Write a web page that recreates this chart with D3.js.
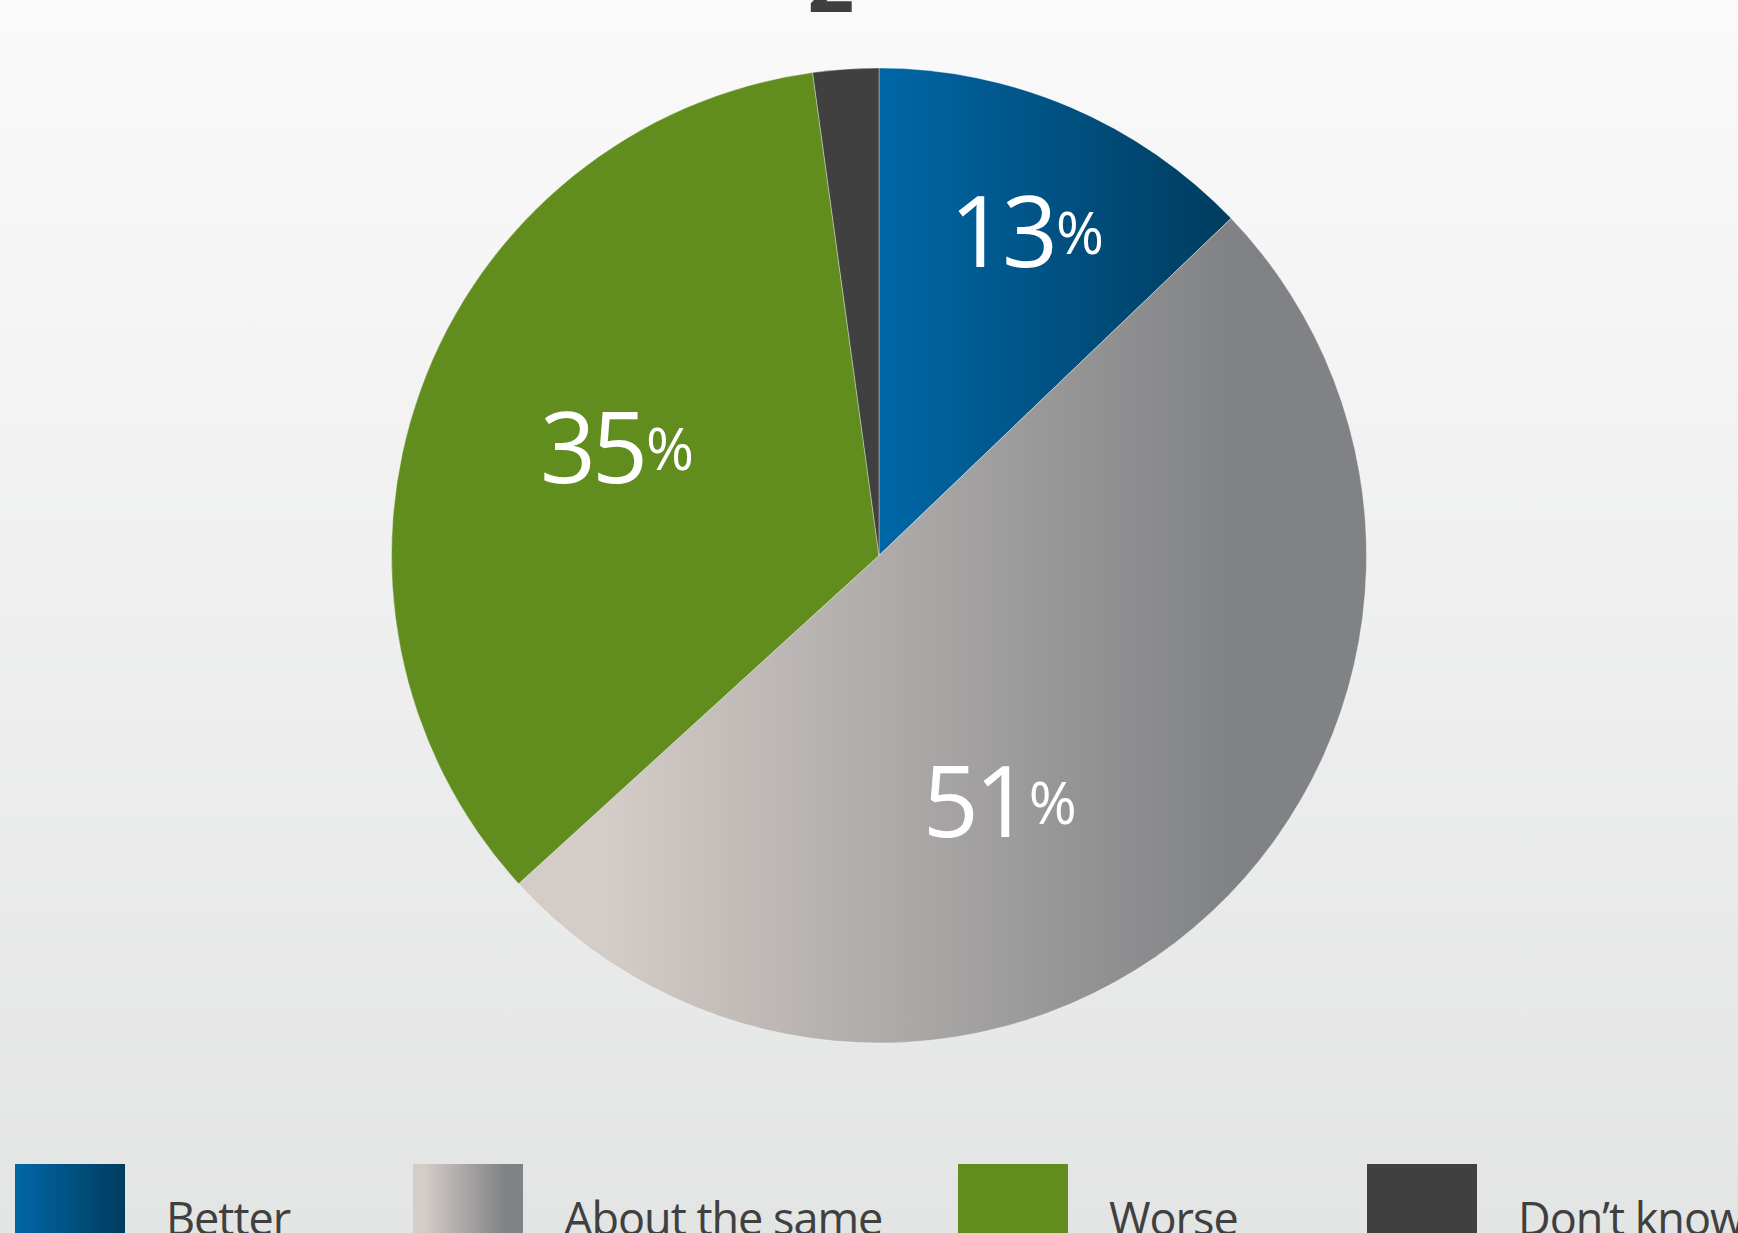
<!DOCTYPE html>
<html>
<head>
<meta charset="utf-8">
<script src="https://cdn.jsdelivr.net/npm/d3@7"></script>
<style>
    html, body { margin: 0; padding: 0; overflow: hidden; }
    svg { display: block; font-family: "Open Sans", "Noto Sans", sans-serif; }
</style>
</head>
<body>
<div id="chart"></div>
<script>
// survey answers
const categories = ["Better", "About the same", "Worse", "Don’t know"]
const shares = [13, 51, 35, 2.2]
const shareLabels = ["13", "51", "35", ""]
const titleText = "2"

const width = 1738
const height = 1233
const center = { x: 879, y: 555.5 }
const radius = 487.5

// label placement relative to the slice centroid (layout only)
const labelNudge = [[32, -55], [-80, 33], [12, -8], [0, 0]]
const legendX = [15, 413, 958, 1367]

const gradients = [
    { id: "grad-better", stops: [[0, "#0067a7"], [1, "#003c5e"]] },
    { id: "grad-same", stops: [[0.1, "#d4ccc7"], [0.84, "#808285"]] },
    { id: "grad-worse", stops: [[0, "#618c1e"], [1, "#618c1e"]] },
    { id: "grad-dk", stops: [[0, "#404040"], [1, "#404040"]] }
]

const svg = d3.select("#chart")
    .append("svg")
    .attr("width", width)
    .attr("height", height)

const defs = svg.append("defs")
const bg = defs.append("linearGradient")
    .attr("id", "bg")
    .attr("x1", 0).attr("x2", 0).attr("y1", 0).attr("y2", 1)
bg.append("stop").attr("offset", 0).attr("stop-color", "#fafafa")
bg.append("stop").attr("offset", 1).attr("stop-color", "#e3e4e4")

gradients.forEach(g => {
    const lg = defs.append("linearGradient")
        .attr("id", g.id)
        .attr("x1", 0).attr("x2", 1).attr("y1", 0).attr("y2", 0)
    g.stops.forEach(s => {
        lg.append("stop").attr("offset", s[0]).attr("stop-color", s[1])
    })
})

svg.append("rect")
    .attr("width", width)
    .attr("height", height)
    .attr("fill", "url(#bg)")

// cut-off title at the very top
svg.append("text")
    .text(titleText)
    .attr("x", 831)
    .attr("y", 12)
    .attr("text-anchor", "middle")
    .style("font-size", "82px")
    .style("font-weight", "bold")
    .style("fill", "#3f3f3f")

const pie = d3.pie().sort(null).value(d => d)
const arcs = pie(shares)
const arc = d3.arc().innerRadius(0).outerRadius(radius)
const labelArc = d3.arc().innerRadius(radius * 0.6).outerRadius(radius * 0.6)

const pieGroup = svg.append("g")
    .attr("transform", `translate(${center.x},${center.y})`)

pieGroup.selectAll(".slice")
    .data(arcs)
    .enter()
    .append("path")
    .attr("class", "slice")
    .attr("d", arc)
    .attr("fill", (d, i) => `url(#${gradients[i].id})`)
    .attr("stroke", "#ffffff")
    .attr("stroke-opacity", 0.35)
    .attr("stroke-width", 1)

const labels = pieGroup.selectAll(".slice-label")
    .data(arcs.filter((d, i) => shareLabels[i] !== ""))
    .enter()
    .append("text")
    .attr("class", "slice-label")
    .attr("text-anchor", "middle")
    .attr("x", d => labelArc.centroid(d)[0] + labelNudge[d.index][0])
    .attr("y", d => labelArc.centroid(d)[1] + labelNudge[d.index][1] + 35)
    .style("fill", "#ffffff")

labels.append("tspan")
    .text(d => shareLabels[d.index])
    .style("font-size", "98px")
    .style("letter-spacing", "-4px")
labels.append("tspan")
    .text("%")
    .attr("dx", 2)
    .attr("dy", -13)
    .style("font-size", "58px")
    .style("letter-spacing", "-2px")

// legend along the bottom edge
const legend = svg.selectAll(".legend-item")
    .data(categories)
    .enter()
    .append("g")
    .attr("class", "legend-item")
    .attr("transform", (d, i) => `translate(${legendX[i]},1164)`)

legend.append("rect")
    .attr("width", 110)
    .attr("height", 110)
    .attr("fill", (d, i) => `url(#${gradients[i].id})`)

legend.append("text")
    .text(d => d)
    .attr("x", 151)
    .attr("y", 71)
    .style("font-size", "45px")
    .style("letter-spacing", "-1px")
    .style("fill", "#404040")
</script>
</body>
</html>
